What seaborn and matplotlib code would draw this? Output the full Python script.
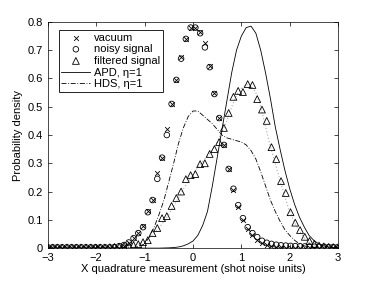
import numpy as np
import pandas as pd
import seaborn as sns
import matplotlib
matplotlib.use("Agg")
import matplotlib.pyplot as plt
from matplotlib.ticker import FuncFormatter

# histogram bin centres (shot noise units)
bins = np.linspace(-3, 3, 62)

vacuum = [0.002] * 16 + [
    0.008, 0.017, 0.035, 0.053, 0.078, 0.13, 0.17, 0.265, 0.32, 0.42,
    0.51, 0.595, 0.675, 0.74, 0.78, 0.78, 0.765, 0.725, 0.645, 0.55,
    0.46, 0.365, 0.28, 0.205, 0.145, 0.098, 0.066, 0.045, 0.028, 0.018,
    0.012, 0.008, 0.005, 0.003, 0.002] + [0.001] * 11

noisy = [0.003] * 14 + [
    0.004, 0.007, 0.011, 0.02, 0.035, 0.053, 0.074, 0.127, 0.17, 0.245,
    0.32, 0.40, 0.51, 0.595, 0.67, 0.74, 0.78, 0.78, 0.76, 0.71,
    0.64, 0.545, 0.46, 0.365, 0.28, 0.21, 0.152, 0.106, 0.074, 0.053,
    0.039, 0.026, 0.019, 0.015, 0.012, 0.01, 0.009, 0.008, 0.007, 0.007,
    0.006, 0.006, 0.005, 0.005, 0.005, 0.004, 0.004, 0.004]

filtered = [0.002] * 13 + [
    0.003, 0.004, 0.005, 0.007, 0.009, 0.011, 0.014, 0.021, 0.028, 0.053,
    0.071, 0.106, 0.113, 0.149, 0.177, 0.20, 0.244, 0.258, 0.262, 0.297,
    0.30, 0.333, 0.35, 0.375, 0.425, 0.478, 0.535, 0.556, 0.552, 0.58,
    0.577, 0.527, 0.49, 0.45, 0.357, 0.315, 0.237, 0.195, 0.127, 0.09,
    0.064, 0.04, 0.025, 0.015, 0.009, 0.006, 0.004, 0.003, 0.002]

# theory curves
curve_x = [-3.0, -1.6, -1.4, -1.2, -1.1, -1.0, -0.9, -0.8, -0.7, -0.6, -0.5,
           -0.4, -0.3, -0.2, -0.1, 0.0, 0.1, 0.2, 0.3, 0.4, 0.5, 0.6, 0.7,
           0.8, 0.9, 1.0, 1.1, 1.2, 1.3, 1.4, 1.5, 1.6, 1.7, 1.8, 1.9, 2.0,
           2.1, 2.2, 2.3, 2.4, 2.5, 2.6, 2.7, 2.8, 2.9, 3.0]

apd = [0.0, 0.0, 0.0, 0.0, 0.0, 0.0, 0.0, 0.0, 0.0, 0.0005, 0.001,
       0.002, 0.004, 0.008, 0.015, 0.025, 0.045, 0.08, 0.13, 0.22, 0.32,
       0.42, 0.52, 0.62, 0.70, 0.75, 0.78, 0.785, 0.76, 0.70, 0.62, 0.53,
       0.43, 0.35, 0.275, 0.21, 0.155, 0.11, 0.075, 0.045, 0.027, 0.015,
       0.008, 0.004, 0.002, 0.001]

hds = [0.0, 0.0, 0.001, 0.003, 0.008, 0.015, 0.04, 0.075, 0.12, 0.17, 0.235,
       0.30, 0.37, 0.425, 0.465, 0.485, 0.485, 0.47, 0.455, 0.44, 0.42,
       0.40, 0.39, 0.385, 0.38, 0.375, 0.365, 0.345, 0.315, 0.27, 0.22,
       0.17, 0.13, 0.095, 0.065, 0.045, 0.028, 0.015, 0.008, 0.004, 0.002,
       0.001, 0.0, 0.0, 0.0, 0.0]

fit = [0.0, 0.001, 0.004, 0.011, 0.017, 0.026, 0.038, 0.053, 0.072, 0.094,
       0.12, 0.148, 0.178, 0.208, 0.236, 0.262, 0.285, 0.306, 0.326, 0.348,
       0.375, 0.41, 0.45, 0.50, 0.54, 0.565, 0.578, 0.575, 0.55, 0.50,
       0.43, 0.36, 0.30, 0.24, 0.18, 0.13, 0.09, 0.06, 0.036, 0.02, 0.01,
       0.005, 0.002, 0.001, 0.0, 0.0]

plt.rcParams['font.family'] = ['Liberation Sans', 'DejaVu Sans']
plt.rcParams['font.size'] = 8

fig = plt.figure(figsize=(3.74, 2.81), dpi=100)
ax = fig.add_axes([0.128, 0.117, 0.776, 0.805])

sns.lineplot(x=curve_x, y=fit, ax=ax, color='#aaaaaa', lw=0.8,
             linestyle=(0, (1, 2)), zorder=2)
sns.scatterplot(x=bins, y=vacuum, ax=ax, marker='x', color='black',
                s=12, linewidth=0.6, label='vacuum', zorder=3)
sns.scatterplot(x=bins, y=noisy, ax=ax, marker='o', facecolor='none',
                edgecolor='black', s=16, linewidth=0.6,
                label='noisy signal', zorder=3)
sns.scatterplot(x=bins, y=filtered, ax=ax, marker='^', facecolor='none',
                edgecolor='black', s=24, linewidth=0.6,
                label='filtered signal', zorder=3)
sns.lineplot(x=curve_x, y=apd, ax=ax, color='black', lw=0.6,
             label='APD, η=1', zorder=2)
sns.lineplot(x=curve_x, y=hds, ax=ax, color='black', lw=0.6,
             linestyle=(0, (6, 2, 1, 2)), label='HDS, η=1', zorder=2)

ax.set_xlim(-3, 3)
ax.set_ylim(0, 0.8)
ax.set_xticks(np.arange(-3, 4, 1))
ax.set_yticks(np.arange(0, 0.81, 0.1))
ax.yaxis.set_major_formatter(FuncFormatter(lambda v, p: '0' if abs(v) < 1e-9 else f'{v:g}'))
ax.xaxis.set_major_formatter(FuncFormatter(lambda v, p: f'{int(round(v))}'.replace('-', '\u2212')))
ax.tick_params(direction='in', top=True, right=True, length=3, width=0.5, labelsize=8)
for s in ax.spines.values():
    s.set_linewidth(0.5)
ax.set_xlabel('X quadrature measurement (shot noise units)', fontsize=8, labelpad=1)
ax.set_ylabel('Probability density', fontsize=8, labelpad=3)

leg = ax.legend(loc='upper left', bbox_to_anchor=(0.018, 0.99), frameon=True,
                fancybox=False, edgecolor='black', framealpha=1,
                handlelength=2.6, handletextpad=0.3, borderpad=0.25,
                labelspacing=0.15, fontsize=8)
leg.get_frame().set_linewidth(0.6)

fig.savefig('out.png', dpi=100)
